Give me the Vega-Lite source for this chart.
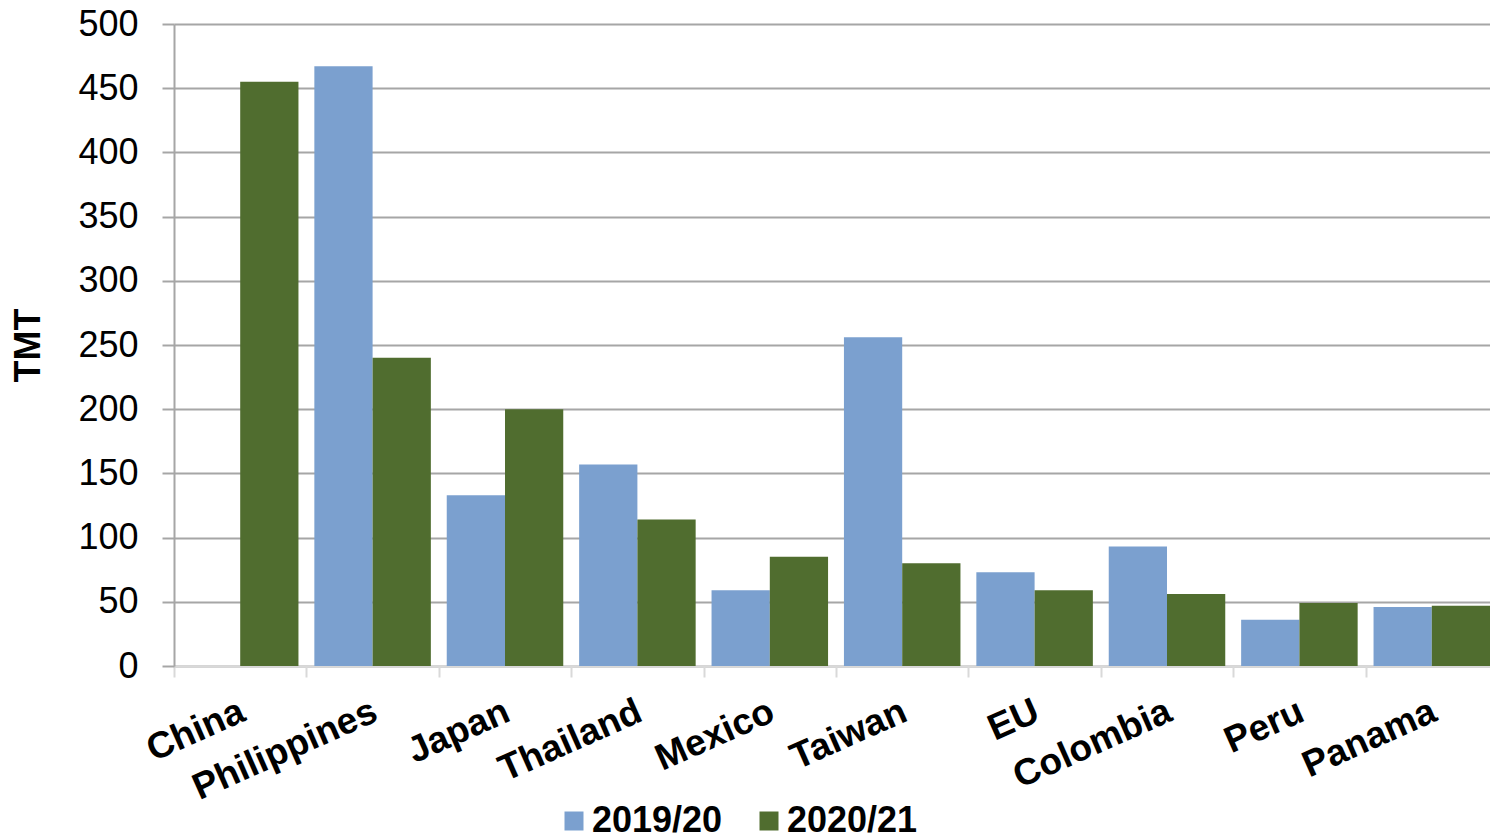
{
  "$schema": "https://vega.github.io/schema/vega-lite/v6.json",
  "width": 1316,
  "height": 642,
  "autosize": {"type": "none"},
  "padding": {"left": 174, "top": 24, "right": 0, "bottom": 174},
  "background": "white",
  "config": {
    "view": {"stroke": null},
    "font": "Liberation Sans"
  },
  "data": {
    "values": [
      {"country": "China", "season": "2019/20", "tmt": 0},
      {"country": "China", "season": "2020/21", "tmt": 455},
      {"country": "Philippines", "season": "2019/20", "tmt": 467},
      {"country": "Philippines", "season": "2020/21", "tmt": 240},
      {"country": "Japan", "season": "2019/20", "tmt": 133},
      {"country": "Japan", "season": "2020/21", "tmt": 200},
      {"country": "Thailand", "season": "2019/20", "tmt": 157},
      {"country": "Thailand", "season": "2020/21", "tmt": 114},
      {"country": "Mexico", "season": "2019/20", "tmt": 59},
      {"country": "Mexico", "season": "2020/21", "tmt": 85},
      {"country": "Taiwan", "season": "2019/20", "tmt": 256},
      {"country": "Taiwan", "season": "2020/21", "tmt": 80},
      {"country": "EU", "season": "2019/20", "tmt": 73},
      {"country": "EU", "season": "2020/21", "tmt": 59},
      {"country": "Colombia", "season": "2019/20", "tmt": 93},
      {"country": "Colombia", "season": "2020/21", "tmt": 56},
      {"country": "Peru", "season": "2019/20", "tmt": 36},
      {"country": "Peru", "season": "2020/21", "tmt": 49},
      {"country": "Panama", "season": "2019/20", "tmt": 46},
      {"country": "Panama", "season": "2020/21", "tmt": 47}
    ]
  },
  "mark": {"type": "bar"},
  "encoding": {
    "x": {
      "field": "country",
      "type": "nominal",
      "sort": null,
      "scale": {"range": [0, 1324], "paddingInner": 0.12, "paddingOuter": 0.06},
      "axis": {
        "title": null,
        "grid": false,
        "domainColor": "#d9d9d9",
        "domainWidth": 2,
        "tickColor": "#d9d9d9",
        "tickWidth": 2,
        "tickSize": 11,
        "tickOffset": -66.2,
        "labelOffset": 61,
        "labelAngle": -24,
        "labelAlign": "right",
        "labelBaseline": "top",
        "labelPadding": 16,
        "labelLimit": 0,
        "labelFont": "Liberation Sans",
        "labelFontSize": 37,
        "labelFontWeight": "bold",
        "labelColor": "#000000",
        "labelOverlap": false
      }
    },
    "xOffset": {"field": "season", "type": "nominal", "scale": {"paddingInner": 0, "paddingOuter": 0}},
    "y": {
      "field": "tmt",
      "type": "quantitative",
      "scale": {"domain": [0, 500], "nice": false},
      "axis": {
        "title": "TMT",
        "titleFont": "Liberation Sans",
        "titleFontSize": 36,
        "titleFontWeight": "bold",
        "titleColor": "#000000",
        "titlePadding": 30,
        "values": [0, 50, 100, 150, 200, 250, 300, 350, 400, 450, 500],
        "grid": true,
        "gridColor": "#a6a6a6",
        "gridWidth": 2,
        "domainColor": "#a6a6a6",
        "domainWidth": 2,
        "tickColor": "#a6a6a6",
        "tickWidth": 2,
        "tickSize": 12,
        "labelPadding": 24,
        "labelFont": "Liberation Sans",
        "labelFontSize": 36,
        "labelColor": "#000000"
      }
    },
    "color": {
      "field": "season",
      "type": "nominal",
      "scale": {"domain": ["2019/20", "2020/21"], "range": ["#7ba0cf", "#506d2f"]},
      "legend": {
        "title": null,
        "orient": "none",
        "legendX": 382,
        "legendY": 779,
        "direction": "horizontal",
        "symbolType": "square",
        "symbolSize": 361,
        "symbolStrokeWidth": 0,
        "labelFont": "Liberation Sans",
        "labelFontSize": 36,
        "labelFontWeight": "bold",
        "labelColor": "#000000",
        "labelOffset": 0,
        "columnPadding": 28,
        "padding": 0
      }
    }
  }
}
